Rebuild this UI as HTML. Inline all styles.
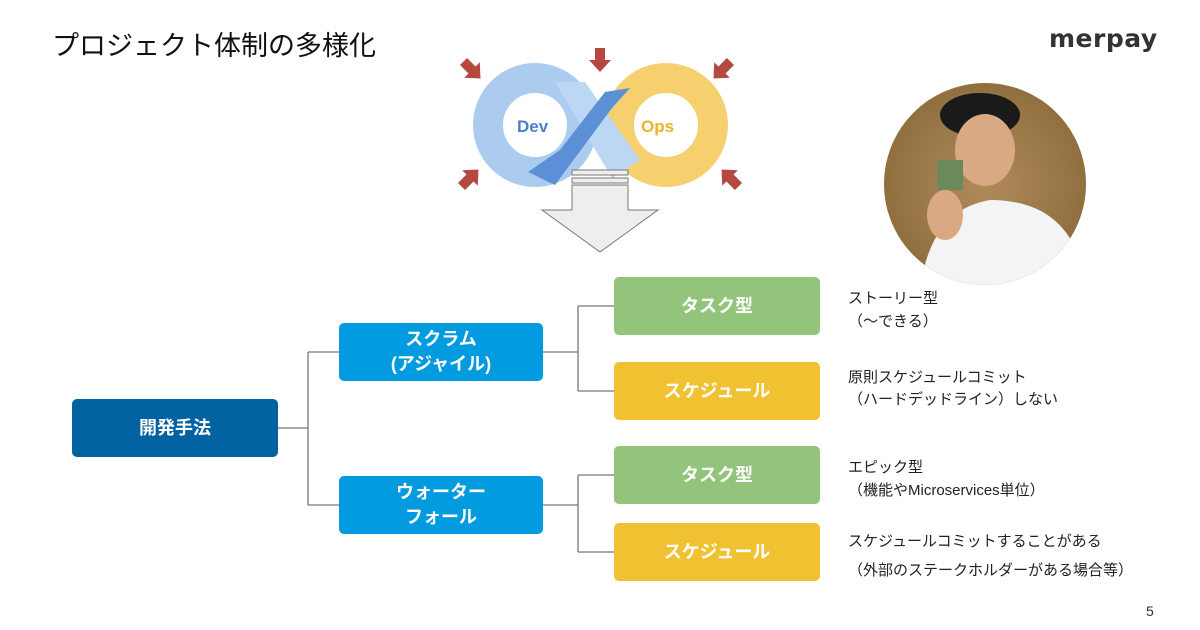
<!DOCTYPE html>
<html><head><meta charset="utf-8"><style>
body{margin:0;width:1200px;height:630px;background:#fff;position:relative;overflow:hidden;font-family:"Liberation Sans","Noto Sans CJK JP",sans-serif;}
.a{position:absolute;}
.box{position:absolute;color:#fff;font-weight:bold;display:flex;align-items:center;justify-content:center;text-align:center;border-radius:5px;font-size:18px;line-height:25px;}
.t{position:absolute;left:848px;font-size:15px;color:#222;white-space:nowrap;}
</style></head><body>
<div class="a" style="left:52px;top:24px;font-size:27px;color:#111;">プロジェクト体制の多様化</div>
<div class="a" style="left:1049px;top:24px;font-size:25px;color:#333;font-weight:bold;letter-spacing:0.5px;font-family:'DejaVu Sans',sans-serif;">merpay</div>
<div class="a" style="left:1146px;top:603px;font-size:14px;color:#333;">5</div>

<svg class="a" style="left:0;top:0" width="1200" height="630">
 <defs>
  <polygon id="ar" points="-5,-12 5,-12 5,0 11,0 0,12 -11,0 -5,0" fill="#b5483f"/>
 </defs>
 <circle cx="535" cy="125" r="47" fill="none" stroke="#acccef" stroke-width="30"/>
 <circle cx="666" cy="125" r="47" fill="none" stroke="#f6cf6e" stroke-width="30"/>
 <polygon points="555,82 585,82 640,160 612,178" fill="#bcd7f4"/>
 <polygon points="528,172 555,185 612,108 630,88 605,92 560,150" fill="#5b8fd6"/>
 <text x="517" y="132" font-size="17" fill="#4a7fcf" font-weight="bold" font-family="Liberation Sans">Dev</text>
 <text x="641" y="132" font-size="17" fill="#e8b428" font-weight="bold" font-family="Liberation Sans">Ops</text>
 <use href="#ar" transform="translate(472,70) rotate(-45)"/>
 <use href="#ar" transform="translate(600,60)"/>
 <use href="#ar" transform="translate(722,70) rotate(45)"/>
 <use href="#ar" transform="translate(470,178) rotate(-135)"/>
 <use href="#ar" transform="translate(730,178) rotate(135)"/>
 <rect x="572" y="170" width="56" height="5" fill="#eee" stroke="#777"/>
 <rect x="572" y="178" width="56" height="5" fill="#eee" stroke="#777"/>
 <polygon points="572,185 628,185 628,210 658,210 600,252 542,210 572,210" fill="#eee" stroke="#777"/>
 <g stroke="#777" stroke-width="1.3" fill="none">
  <path d="M278 428H308M308 352V505M308 352H339M308 505H339"/>
  <path d="M543 352H578M578 306V391M578 306H614M578 391H614"/>
  <path d="M543 505H578M578 475V552M578 475H614M578 552H614"/>
 </g>
 <defs><radialGradient id="g" cx="50%" cy="50%" r="60%"><stop offset="0" stop-color="#b08a5a"/><stop offset="1" stop-color="#8a6a3a"/></radialGradient>
 <clipPath id="c"><circle cx="985" cy="184" r="101"/></clipPath></defs>
 <circle cx="985" cy="184" r="101" fill="url(#g)"/>
 <g clip-path="url(#c)">
  <ellipse cx="980" cy="115" rx="40" ry="22" fill="#1a1a1a"/>
  <ellipse cx="985" cy="150" rx="30" ry="36" fill="#d9a984"/>
  <path d="M920 290 Q930 210 990 200 Q1060 200 1080 260 L1090 300Z" fill="#f4f4f4"/>
  <rect x="937" y="160" width="26" height="30" fill="#6a8a5a"/>
  <ellipse cx="945" cy="215" rx="18" ry="25" fill="#d9a984"/>
 </g>
</svg>

<div class="box" style="left:72px;top:399px;width:206px;height:58px;background:#0062a1;">開発手法</div>
<div class="box" style="left:339px;top:323px;width:204px;height:58px;background:#039be0;">スクラム<br>(アジャイル)</div>
<div class="box" style="left:339px;top:476px;width:204px;height:58px;background:#039be0;">ウォーター<br>フォール</div>
<div class="box" style="left:614px;top:277px;width:206px;height:58px;background:#92c47c;">タスク型</div>
<div class="box" style="left:614px;top:362px;width:206px;height:58px;background:#f0c231;">スケジュール</div>
<div class="box" style="left:614px;top:446px;width:206px;height:58px;background:#92c47c;">タスク型</div>
<div class="box" style="left:614px;top:523px;width:206px;height:58px;background:#f0c231;">スケジュール</div>

<div class="t" style="top:287px;">ストーリー型</div>
<div class="t" style="top:310px;">（〜できる）</div>
<div class="t" style="top:366px;">原則スケジュールコミット</div>
<div class="t" style="top:388px;">（ハードデッドライン）しない</div>
<div class="t" style="top:456px;">エピック型</div>
<div class="t" style="top:479px;">（機能やMicroservices単位）</div>
<div class="t" style="top:530px;">スケジュールコミットすることがある</div>
<div class="t" style="top:559px;">（外部のステークホルダーがある場合等）</div>
</body></html>
